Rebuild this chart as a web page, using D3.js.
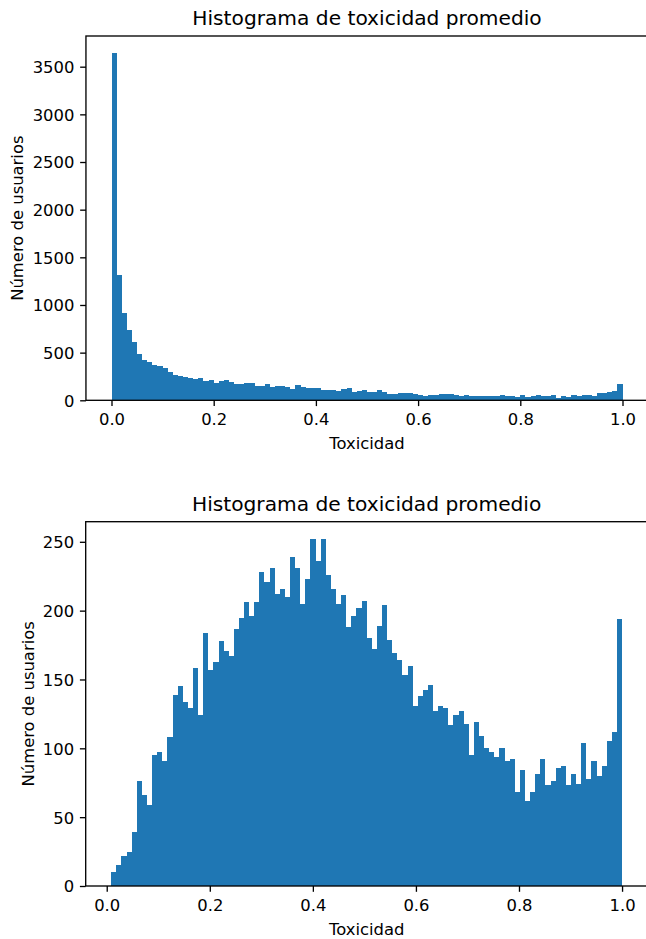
<!DOCTYPE html>
<html>
<head>
<meta charset="utf-8">
<script src="https://cdn.jsdelivr.net/npm/d3@7"></script>
<style>
  html, body { margin: 0; padding: 0; background: #fff; }
  svg { display: block; font-family: "DejaVu Sans", sans-serif; }
</style>
</head>
<body>
<svg id="chart" width="646" height="939"></svg>
<script>
// ---- Data ----
const titleText = "Histograma de toxicidad promedio";
const xLabelText = "Toxicidad";
const yLabelText = "Número de usuarios";

const xTicks = [0.0, 0.2, 0.4, 0.6, 0.8, 1.0];

// Top histogram: 100 bins over [0, 1]
const topRange = [0.0, 1.0];
const topCounts = [
  3640, 1312, 917, 736, 610, 488, 422, 401, 373, 359,
  338, 296, 265, 254, 244, 233, 223, 233, 202, 212,
  181, 202, 212, 191, 170, 170, 181, 181, 150, 150,
  170, 140, 150, 150, 139, 118, 160, 139, 129, 129,
  129, 108, 108, 108, 97, 118, 129, 87, 97, 108,
  87, 87, 108, 87, 66, 66, 76, 76, 76, 66,
  55, 45, 55, 55, 66, 66, 66, 55, 45, 55,
  45, 45, 45, 45, 40, 45, 55, 45, 45, 35,
  55, 35, 45, 55, 45, 45, 55, 24, 45, 35,
  55, 45, 55, 55, 45, 76, 76, 87, 97, 171
];
const topYTicks = [0, 500, 1000, 1500, 2000, 2500, 3000, 3500];

// Bottom histogram: 100 bins over [0.00876, 1]
const bottomRange = [0.00876, 1.0];
const bottomCounts = [
  10, 15, 22, 25, 39, 76, 66, 59, 95, 97,
  91, 108, 139, 145, 134, 129, 158, 124, 184, 157,
  163, 178, 171, 167, 187, 195, 206, 196, 206, 228,
  221, 231, 212, 216, 210, 239, 231, 205, 223, 252,
  236, 252, 226, 216, 205, 211, 188, 196, 202, 207,
  180, 172, 189, 204, 179, 169, 164, 153, 160, 131,
  138, 142, 146, 127, 131, 129, 117, 124, 127, 118,
  95, 119, 109, 100, 97, 94, 100, 91, 92, 68,
  84, 62, 68, 81, 92, 73, 76, 86, 87, 73,
  81, 74, 104, 78, 91, 80, 87, 105, 112, 194
];
const bottomYTicks = [0, 50, 100, 150, 200, 250];

// ---- Drawing ----
const svg = d3.select("#chart");
const barColor = "#1f77b4";
const fontSize = 16.4;
const titleSize = 20.2;
const lw = 1.33;
const tickLen = 5.8;
const tickPad = 5.8;

function drawPanel(cfg) {
  const { counts, range, yTicks, left, right, top, bottom, ylabelX } = cfg;
  const n = counts.length;
  const [lo, hi] = range;
  const span = hi - lo;
  const edges = d3.range(n + 1).map(i => lo + span * i / n);
  const x = d3.scaleLinear()
    .domain([lo - 0.05 * span, hi + 0.05 * span])
    .range([left, right]);
  const y = d3.scaleLinear()
    .domain([0, d3.max(counts) * 1.05])
    .range([bottom, top]);

  const g = svg.append("g");

  // bars
  g.append("g")
    .attr("shape-rendering", "crispEdges")
    .selectAll("rect")
    .data(counts)
    .join("rect")
    .attr("x", (d, i) => x(edges[i]))
    .attr("width", (d, i) => x(edges[i + 1]) - x(edges[i]))
    .attr("y", d => y(d))
    .attr("height", d => y(0) - y(d))
    .attr("fill", barColor);

  // x axis
  const xAxis = d3.axisBottom(x)
    .tickValues(xTicks)
    .tickFormat(d3.format(".1f"))
    .tickSize(tickLen)
    .tickPadding(tickPad);
  const gx = g.append("g")
    .attr("transform", `translate(0,${bottom})`)
    .call(xAxis);
  gx.select(".domain").remove();
  gx.selectAll(".tick line").attr("stroke", "#000").attr("stroke-width", lw);
  gx.selectAll(".tick text")
    .attr("font-size", fontSize)
    .attr("font-family", "DejaVu Sans")
    .attr("fill", "#000")
    .attr("dy", null)
    .attr("y", 24.5);

  // y axis
  const yAxis = d3.axisLeft(y)
    .tickValues(yTicks)
    .tickFormat(d3.format("d"))
    .tickSize(tickLen)
    .tickPadding(tickPad);
  const gy = g.append("g")
    .attr("transform", `translate(${left},0)`)
    .call(yAxis);
  gy.select(".domain").remove();
  gy.selectAll(".tick line").attr("stroke", "#000").attr("stroke-width", lw);
  gy.selectAll(".tick text")
    .attr("font-size", fontSize)
    .attr("font-family", "DejaVu Sans")
    .attr("fill", "#000")
    .attr("dy", "0.36em");

  // spines
  const frame = g.append("g").attr("fill", "none").attr("stroke", "#000").attr("stroke-width", lw);
  frame.append("rect")
    .attr("x", left).attr("y", top)
    .attr("width", right - left).attr("height", bottom - top)
    .attr("stroke-linejoin", "miter");

  // title
  g.append("text")
    .attr("x", (left + right) / 2)
    .attr("y", top - 11)
    .attr("text-anchor", "middle")
    .attr("font-size", titleSize)
    .attr("fill", "#000")
    .text(titleText);

  // x label
  g.append("text")
    .attr("x", (left + right) / 2)
    .attr("y", bottom + 48.5)
    .attr("text-anchor", "middle")
    .attr("font-size", fontSize)
    .attr("fill", "#000")
    .text(xLabelText);

  // y label
  g.append("text")
    .attr("transform", `translate(${ylabelX},${(top + bottom) / 2}) rotate(-90)`)
    .attr("text-anchor", "middle")
    .attr("font-size", fontSize)
    .attr("fill", "#000")
    .text(yLabelText);
}

drawPanel({
  counts: topCounts, range: topRange, yTicks: topYTicks,
  left: 85.95, right: 648.05, top: 36, bottom: 400.3, ylabelX: 22.5
});

drawPanel({
  counts: bottomCounts, range: bottomRange, yTicks: bottomYTicks,
  left: 85.7, right: 647.6, top: 521.7, bottom: 886, ylabelX: 33.5
});
</script>
</body>
</html>
